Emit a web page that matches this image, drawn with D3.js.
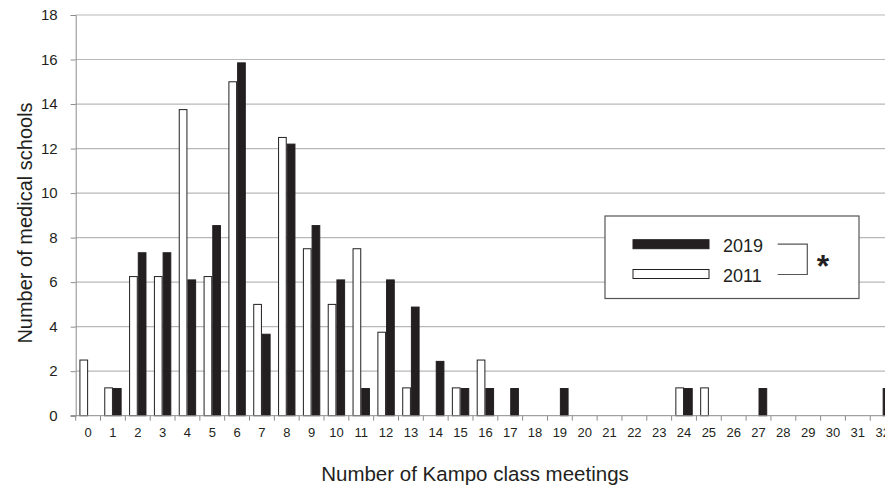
<!DOCTYPE html>
<html>
<head>
<meta charset="utf-8">
<script src="https://cdn.jsdelivr.net/npm/d3@7"></script>
<style>
  html, body { margin: 0; padding: 0; background: #fff; }
  svg { display: block; font-family: "Liberation Sans", Arial, sans-serif; }
</style>
</head>
<body>
<svg id="chart" width="885" height="488"></svg>
<script>
// Number of Kampo class meetings (0..32)
const meetings = d3.range(0, 33).map(String);

// Share of medical schools per number of meetings
const values2011 = [2.5, 1.25, 6.25, 6.25, 13.75, 6.25, 15, 5, 12.5, 7.5, 5, 7.5, 3.75, 1.25, 0, 1.25, 2.5,
                    0, 0, 0, 0, 0, 0, 0, 1.25, 1.25, 0, 0, 0, 0, 0, 0, 0];
const values2019 = [0, 1.22, 7.32, 7.32, 6.10, 8.54, 15.85, 3.66, 12.20, 8.54, 6.10, 1.22, 6.10, 4.88, 2.44, 1.22, 1.22,
                    1.22, 0, 1.22, 0, 0, 0, 0, 1.22, 0, 0, 1.22, 0, 0, 0, 0, 1.22];

const seriesNames = ["2011", "2019"];
const legendOrder = ["2019", "2011"];
const yTicks = [0, 2, 4, 6, 8, 10, 12, 14, 16, 18];

const fills = { "2011": "#ffffff", "2019": "#231f20" };
const valuesBySeries = { "2011": values2011, "2019": values2019 };

const svg = d3.select("#chart");

const plotLeft = 75.7, bandW = 24.83;
const plotTop = 15, plotBottom = 415.7;

const x = d3.scaleBand().domain(meetings).range([plotLeft, plotLeft + bandW * meetings.length]).padding(0);
const xs = d3.scaleBand().domain(seriesNames).range([x.bandwidth() * 0.15, x.bandwidth() * 0.85]).padding(0);
const y = d3.scaleLinear().domain([0, 18]).range([plotBottom, plotTop]);

// horizontal gridlines
svg.append("g")
  .selectAll("line")
  .data(yTicks.filter(d => d > 0))
  .join("line")
  .attr("x1", plotLeft).attr("x2", 885)
  .attr("y1", d => y(d)).attr("y2", d => y(d))
  .attr("stroke", "#b8b8b8").attr("stroke-width", 1.2);

// y axis
const yAxis = svg.append("g")
  .attr("transform", `translate(${plotLeft},0)`)
  .call(d3.axisLeft(y).tickValues(yTicks).tickSize(5).tickPadding(13));
yAxis.select(".domain").attr("stroke", "#8c8c8c");
yAxis.selectAll(".tick line").attr("stroke", "#8c8c8c");
yAxis.selectAll(".tick text")
  .attr("font-size", 15).attr("fill", "#231f20")
  .attr("font-family", "Liberation Sans, Arial, sans-serif");

// bars
const groups = svg.append("g")
  .selectAll("g")
  .data(meetings)
  .join("g")
  .attr("transform", d => `translate(${x(d)},0)`);

groups.selectAll("rect")
  .data((d, i) => seriesNames.map(s => ({ s, v: valuesBySeries[s][i] })).filter(e => e.v > 0))
  .join("rect")
  .attr("x", d => xs(d.s) + 0.5)
  .attr("width", xs.bandwidth() - 1)
  .attr("y", d => y(d.v))
  .attr("height", d => y(0) - y(d.v))
  .attr("fill", d => fills[d.s])
  .attr("stroke", "#231f20")
  .attr("stroke-width", 1);

// x axis with ticks on category boundaries
const xAxisG = svg.append("g").attr("transform", `translate(0,${plotBottom})`);
xAxisG.append("line")
  .attr("x1", plotLeft - 5).attr("x2", 885)
  .attr("stroke", "#8c8c8c").attr("stroke-width", 1);
xAxisG.selectAll("line.tk")
  .data(meetings.concat(["end"]))
  .join("line")
  .attr("class", "tk")
  .attr("x1", (d, i) => plotLeft + i * x.bandwidth())
  .attr("x2", (d, i) => plotLeft + i * x.bandwidth())
  .attr("y1", 0).attr("y2", 5)
  .attr("stroke", "#8c8c8c");
xAxisG.selectAll("text")
  .data(meetings)
  .join("text")
  .attr("x", d => x(d) + x.bandwidth() / 2)
  .attr("y", 21.5)
  .attr("text-anchor", "middle")
  .attr("font-size", 13)
  .attr("fill", "#231f20")
  .text(d => d);

// axis titles
svg.append("text")
  .attr("x", 475).attr("y", 481)
  .attr("text-anchor", "middle")
  .attr("font-size", 20.5)
  .attr("fill", "#231f20")
  .text("Number of Kampo class meetings");

svg.append("text")
  .attr("transform", "translate(32,223) rotate(-90)")
  .attr("text-anchor", "middle")
  .attr("font-size", 20)
  .attr("fill", "#231f20")
  .text("Number of medical schools");

// legend
const lg = svg.append("g");
lg.append("rect")
  .attr("x", 605).attr("y", 216).attr("width", 254).attr("height", 82.5)
  .attr("fill", "#fff").attr("stroke", "#555").attr("stroke-width", 1.2);

const legendRowY = { "2019": 244.2, "2011": 274 };
legendOrder.forEach(s => {
  lg.append("rect")
    .attr("x", 633).attr("y", legendRowY[s] - 4.5)
    .attr("width", 76).attr("height", 9)
    .attr("fill", fills[s]).attr("stroke", "#231f20").attr("stroke-width", 1);
  lg.append("text")
    .attr("x", 723).attr("y", legendRowY[s] + 8)
    .attr("font-size", 18).attr("fill", "#231f20")
    .text(s);
});

// significance bracket
lg.append("path")
  .attr("d", `M777.7,${legendRowY["2019"]}H807.3V${legendRowY["2011"] + 0.5}H777.7`)
  .attr("fill", "none").attr("stroke", "#555").attr("stroke-width", 1.2);
lg.append("text")
  .attr("x", 823).attr("y", 277)
  .attr("text-anchor", "middle")
  .attr("font-size", 32).attr("font-weight", "bold")
  .attr("fill", "#231f20")
  .text("*");
</script>
</body>
</html>
